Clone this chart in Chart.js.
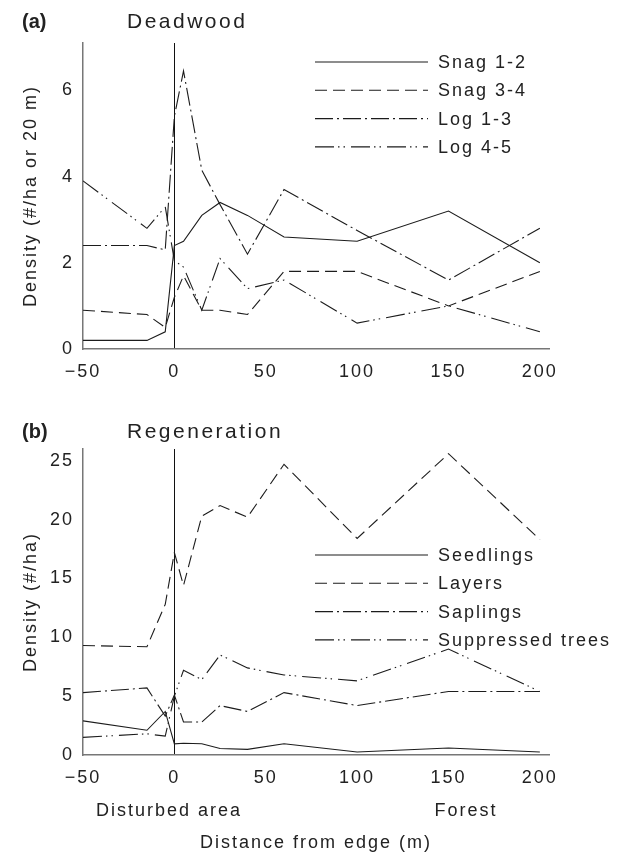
<!DOCTYPE html>
<html>
<head>
<meta charset="utf-8">
<script src="https://cdn.jsdelivr.net/npm/chart.js@4/dist/chart.umd.min.js"></script>
<style>
  body { margin: 0; background: #fff; }
  canvas { position: absolute; left: 0; }
  #deadwoodCanvas { top: 0; }
  #regenCanvas { top: 400px; }
</style>
</head>
<body>
<canvas id="deadwoodCanvas" width="627" height="400"></canvas>
<canvas id="regenCanvas" width="627" height="455"></canvas>
<script>
// distance from edge (m) of every sampling position
const distances = [-50, -15, -5, 0, 5, 15, 25, 40, 60, 100, 150, 200];

// (a) deadwood, #/ha or per 20 m
const snag12 = [0.2, 0.2, 0.4, 2.4, 2.5, 3.1, 3.4, 3.1, 2.6, 2.5, 3.2, 2.0];
const snag34 = [0.9, 0.8, 0.5, 1.2, 1.7, 0.9, 0.9, 0.8, 1.8, 1.8, 1.0, 1.8];
const log13 = [2.4, 2.4, 2.3, 5.4, 6.45, 4.15, 3.35, 2.2, 3.7, 2.75, 1.6, 2.8];
const log45 = [3.9, 2.8, 3.3, 2.05, 1.9, 0.9, 2.1, 1.4, 1.6, 0.6, 1.0, 0.4];

// (b) regeneration, #/ha
const seedlings = [2.9, 2.1, 3.7, 0.95, 1.0, 0.95, 0.55, 0.48, 0.95, 0.25, 0.6, 0.25];
const layers = [9.3, 9.2, 12.8, 17.2, 14.4, 20.3, 21.2, 20.2, 24.7, 18.4, 25.6, 18.3];
const saplings = [5.3, 5.7, 3.3, 5.1, 2.8, 2.8, 4.2, 3.7, 5.3, 4.2, 5.4, 5.4];
const suppressed = [1.5, 1.8, 1.6, 5.0, 7.2, 6.4, 8.5, 7.4, 6.8, 6.3, 9.0, 5.4];

const xTicks = [-50, 0, 50, 100, 150, 200];
const deadwoodTicks = [0, 2, 4, 6];
const regenTicks = [0, 5, 10, 15, 20, 25];

const FONT = "'Liberation Sans', Arial, sans-serif";
const INK = '#222';
const SOLID = [];
const DASH = [12, 6];
const DASH_DOT = [18, 4, 2, 4];
const DASH_DOT_DOT = [19, 4, 1.5, 4, 1.5, 6];

Chart.defaults.font.family = FONT;
Chart.defaults.font.size = 18;
Chart.defaults.color = INK;

function series(label, values, dash) {
    return {
        label: label,
        data: distances.map((d, i) => ({ x: d, y: values[i] })),
        borderColor: '#1c1c1c',
        borderWidth: 1.1,
        borderDash: dash,
        pointRadius: 0,
        tension: 0,
        fill: false
    };
}

// wider letter spacing, like the printed figure
const spacing = {
    id: 'spacing',
    beforeLayout(chart) { chart.ctx.letterSpacing = '2px'; },
    beforeDraw(chart) { chart.ctx.letterSpacing = '2px'; }
};

function panelText(opts) {
    return {
        id: 'panelText',
        afterDraw(chart) {
            const ctx = chart.ctx;
            ctx.save();
            ctx.fillStyle = INK;
            ctx.textBaseline = 'middle';
            ctx.textAlign = 'left';
            ctx.letterSpacing = '0px';
            ctx.font = 'bold 20px ' + FONT;
            ctx.fillText(opts.tag, 22, opts.titleY);
            ctx.letterSpacing = '2.5px';
            ctx.font = '21px ' + FONT;
            ctx.fillText(opts.title, 127, opts.titleY);

            // legend inside the plot
            ctx.letterSpacing = '2px';
            ctx.font = '18px ' + FONT;
            chart.data.datasets.forEach((ds, i) => {
                const y = opts.legendY + i * 28.3;
                ctx.strokeStyle = ds.borderColor;
                ctx.lineWidth = ds.borderWidth;
                ctx.setLineDash(ds.borderDash);
                ctx.beginPath();
                ctx.moveTo(315, y);
                ctx.lineTo(428, y);
                ctx.stroke();
                ctx.fillText(ds.label, 438, y + 1);
            });

            ctx.textAlign = 'center';
            (opts.notes || []).forEach(n => ctx.fillText(n.text, n.x, n.y));
            ctx.restore();
        }
    };
}

function makeChart(id, datasets, yMax, yTicks, yTitle, opts) {
    const ctx = document.getElementById(id).getContext('2d');
    return new Chart(ctx, {
        type: 'line',
        data: { datasets: datasets },
        options: {
            responsive: false,
            animation: false,
            layout: { padding: { top: opts.top, right: 78, left: 0, bottom: 0 } },
            plugins: { legend: { display: false }, tooltip: { enabled: false } },
            scales: {
                x: {
                    type: 'linear',
                    min: -50,
                    max: 205,
                    afterBuildTicks: s => { s.ticks = xTicks.map(v => ({ value: v })); },
                    afterFit: s => { s.height = opts.xHeight; },
                    ticks: {
                        padding: 12,
                        color: INK,
                        callback: v => String(v).replace('-', '\u2212')
                    },
                    grid: {
                        drawTicks: false,
                        lineWidth: 1,
                        color: c => (c.tick && c.tick.value === 0) ? '#111' : 'rgba(0,0,0,0)'
                    },
                    border: { color: '#777', width: 1.5 },
                    title: {
                        display: !!opts.xTitle,
                        text: opts.xTitle || '',
                        color: INK,
                        padding: { top: 0, bottom: 1 }
                    }
                },
                y: {
                    min: 0,
                    max: yMax,
                    afterBuildTicks: s => { s.ticks = yTicks.map(v => ({ value: v })); },
                    afterFit: s => { s.width = 83; },
                    ticks: { padding: 9, color: INK },
                    grid: { drawTicks: false, drawOnChartArea: false },
                    border: { color: '#777', width: 1.5 },
                    title: {
                        display: true,
                        text: yTitle,
                        color: INK,
                        padding: { top: 20, bottom: 0 }
                    }
                }
            }
        },
        plugins: [spacing, panelText(opts)]
    });
}

makeChart('deadwoodCanvas', [
    series('Snag 1-2', snag12, SOLID),
    series('Snag 3-4', snag34, DASH),
    series('Log 1-3', log13, DASH_DOT),
    series('Log 4-5', log45, DASH_DOT_DOT)
], 7.1, deadwoodTicks, 'Density (#/ha or 20 m)', {
    top: 43, xHeight: 51, tag: '(a)', title: 'Deadwood', titleY: 22, legendY: 62
});

makeChart('regenCanvas', [
    series('Seedlings', seedlings, SOLID),
    series('Layers', layers, DASH),
    series('Saplings', saplings, DASH_DOT),
    series('Suppressed trees', suppressed, DASH_DOT_DOT)
], 26, regenTicks, 'Density (#/ha)', {
    top: 49, xHeight: 100, tag: '(b)', title: 'Regeneration', titleY: 32, legendY: 155,
    xTitle: 'Distance from edge (m)',
    notes: [
        { text: 'Disturbed area', x: 169, y: 411 },
        { text: 'Forest', x: 466, y: 411 }
    ]
});
</script>
</body>
</html>
